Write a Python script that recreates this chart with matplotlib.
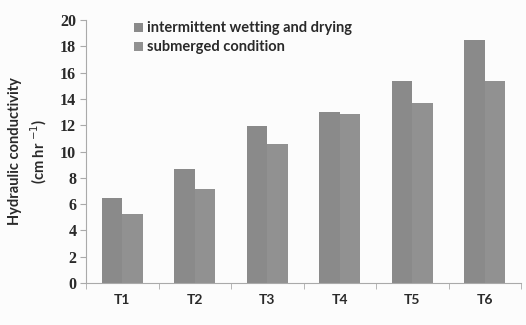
import matplotlib.pyplot as plt
import numpy as np

treatments = ['T1', 'T2', 'T3', 'T4', 'T5', 'T6']
wet_dry = [6.46, 8.64, 11.94, 13.03, 15.38, 18.48]
submerged = [5.25, 7.15, 10.57, 12.83, 13.71, 15.38]

fig = plt.figure(figsize=(5.26, 3.25), dpi=100, facecolor='#fcfcfc')
ax = fig.add_axes([86/526, 1-283/325, 435/526, 263/325], facecolor='#fcfcfc')

x = np.arange(len(treatments))
w = 0.28
ax.bar(x - w/2, wet_dry, w, color='#8a8a8a', label='intermittent wetting and drying')
ax.bar(x + w/2, submerged, w, color='#919191', label='submerged condition')

ax.set_xlim(-0.5, 5.5)
ax.set_ylim(0, 20)
ax.set_yticks(range(0, 21, 2))
ax.set_yticklabels([str(v) for v in range(0, 21, 2)], family='Liberation Serif',
                   fontweight='bold', fontsize=11.5, color='#2a2a2a')

# category labels centred, tick marks at the boundaries
ax.set_xticks(x)
ax.set_xticklabels(treatments, family='Lato', fontweight='bold', fontsize=10, color='#2a2a2a')
ax.tick_params(axis='x', length=0, pad=8)
ax.set_xticks(np.arange(-0.5, 6, 1), minor=True)
ax.tick_params(axis='x', which='minor', length=4, color='#aaaaaa')
ax.tick_params(axis='y', length=4, color='#aaaaaa', pad=3)

for s in ['top', 'right']:
    ax.spines[s].set_visible(False)
ax.spines['left'].set_color('#aaaaaa')
ax.spines['bottom'].set_color('#aaaaaa')

ax.set_ylabel('Hydraulic conductivity\n(cm hr $^{-1}$)', family='Lato', fontweight='bold',
              fontsize=10.5, color='#2a2a2a', labelpad=8, linespacing=1.4)

ax.legend(loc='upper left', bbox_to_anchor=(0.08, 1.045), frameon=False,
          handlelength=0.6, handleheight=0.6, handletextpad=0.3,
          labelspacing=0.35, prop={'family': 'Lato', 'weight': 'bold', 'size': 10.5},
          labelcolor='#2a2a2a')

plt.savefig('out.png', dpi=100, facecolor=fig.get_facecolor())
